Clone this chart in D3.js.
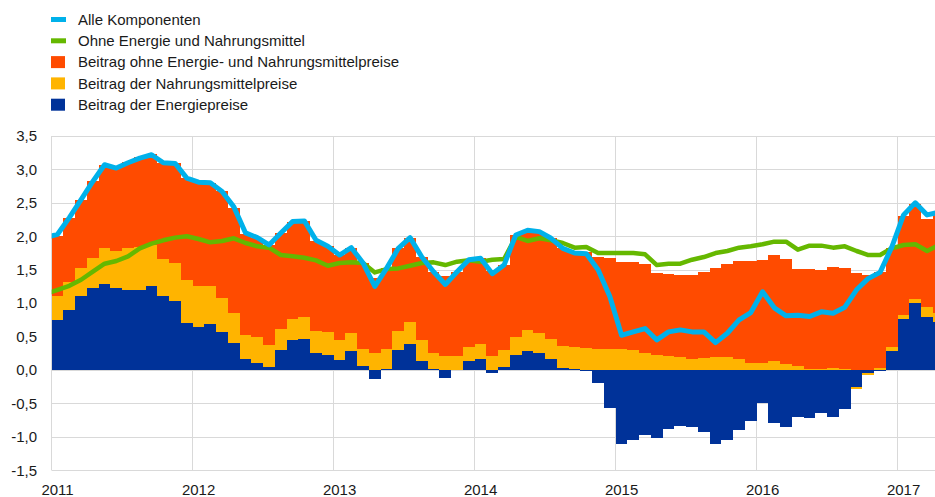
<!DOCTYPE html>
<html>
<head>
<meta charset="utf-8">
<script src="https://cdn.jsdelivr.net/npm/d3@7/dist/d3.min.js"></script>
<style>
	body { margin: 0; background: #fff; }
	svg text { font-family: "Liberation Sans", Arial, sans-serif; font-size: 15px; fill: #1a1a1a; }
</style>
</head>
<body>
<div id="chart"></div>
<script>
// monthly data, bars start in Jan 2011
var firstYear  = 2011;
var yearLabels = ['2011', '2012', '2013', '2014', '2015', '2016', '2017'];
var yTicks     = [-1.5, -1.0, -0.5, 0.0, 0.5, 1.0, 1.5, 2.0, 2.5, 3.0, 3.5];

var seriesNames  = ['Alle Komponenten', 'Ohne Energie und Nahrungsmittel',
	'Beitrag ohne Energie- und Nahrungsmittelpreise', 'Beitrag der Nahrungsmittelpreise',
	'Beitrag der Energiepreise'];

// contribution of energy prices
var energy = [
	0.75, 0.90, 1.10, 1.23, 1.28, 1.22, 1.20, 1.20, 1.26, 1.10, 1.03, 0.71,
	0.65, 0.69, 0.57, 0.41, 0.16, 0.10, 0.05, 0.30, 0.45, 0.47, 0.25, 0.22,
	0.15, 0.29, 0.06, -0.13, 0.02, 0.30, 0.39, 0.14, 0.01, -0.12, 0.00, 0.14,
	0.17, -0.04, 0.05, 0.22, 0.28, 0.25, 0.17, 0.03, 0.01, -0.02, -0.19, -0.57,
	-1.10, -1.05, -0.97, -1.01, -0.88, -0.84, -0.85, -0.92, -1.11, -1.05, -0.90, -0.77,
	-0.50, -0.80, -0.85, -0.70, -0.72, -0.64, -0.70, -0.59, -0.26, -0.05, -0.01, 0.29,
	0.76, 1.00, 0.80, 0.72
];
// contribution of food prices
var food = [
	0.36, 0.41, 0.43, 0.45, 0.55, 0.56, 0.62, 0.64, 0.61, 0.56, 0.57, 0.63,
	0.61, 0.57, 0.51, 0.45, 0.37, 0.39, 0.32, 0.32, 0.31, 0.33, 0.33, 0.35,
	0.30, 0.26, 0.25, 0.25, 0.29, 0.29, 0.33, 0.31, 0.24, 0.21, 0.21, 0.21,
	0.22, 0.21, 0.25, 0.27, 0.32, 0.30, 0.30, 0.33, 0.34, 0.33, 0.32, 0.32,
	0.31, 0.30, 0.26, 0.23, 0.21, 0.19, 0.17, 0.18, 0.19, 0.20, 0.17, 0.11,
	0.11, 0.13, 0.09, 0.06, 0.02, 0.01, 0.03, 0.01, -0.02, -0.02, 0.03, 0.05,
	0.07, 0.06, 0.14, 0.13
];
// contribution excluding energy and food
var core = [
	0.89, 0.96, 1.01, 1.14, 1.24, 1.24, 1.29, 1.34, 1.36, 1.44, 1.50, 1.53,
	1.56, 1.54, 1.59, 1.57, 1.51, 1.49, 1.50, 1.43, 1.46, 1.43, 1.35, 1.28,
	1.27, 1.28, 1.29, 1.13, 1.21, 1.23, 1.26, 1.24, 1.22, 1.19, 1.26, 1.30,
	1.28, 1.27, 1.27, 1.53, 1.49, 1.52, 1.50, 1.46, 1.40, 1.43, 1.37, 1.35,
	1.31, 1.32, 1.33, 1.22, 1.23, 1.23, 1.25, 1.29, 1.33, 1.39, 1.46, 1.52,
	1.54, 1.59, 1.57, 1.45, 1.49, 1.49, 1.51, 1.51, 1.45, 1.42, 1.43, 1.48,
	1.47, 1.43, 1.32, 1.48
];

// lines start one month earlier (Dec 2010), only a stub shows at the left edge
var lineStart = -1;
var headline = [
	1.98,
	2.03, 2.28, 2.55, 2.82, 3.07, 3.02, 3.10, 3.17, 3.22, 3.10, 3.09, 2.87,
	2.81, 2.80, 2.67, 2.44, 2.05, 1.98, 1.87, 2.05, 2.22, 2.23, 1.94, 1.85,
	1.72, 1.83, 1.60, 1.25, 1.52, 1.82, 1.98, 1.69, 1.47, 1.28, 1.47, 1.65,
	1.67, 1.44, 1.57, 2.02, 2.09, 2.07, 1.97, 1.82, 1.75, 1.74, 1.50, 1.10,
	0.52, 0.57, 0.62, 0.45, 0.57, 0.60, 0.57, 0.57, 0.41, 0.55, 0.75, 0.86,
	1.17, 0.93, 0.81, 0.82, 0.80, 0.87, 0.85, 0.94, 1.20, 1.37, 1.46, 1.84,
	2.32, 2.50, 2.32, 2.36
];
var exEnergyFood = [
	1.14,
	1.20, 1.26, 1.35, 1.47, 1.59, 1.63, 1.70, 1.82, 1.89, 1.94, 1.98, 2.00,
	1.96, 1.91, 1.93, 1.97, 1.90, 1.85, 1.83, 1.72, 1.70, 1.68, 1.64, 1.56,
	1.60, 1.61, 1.60, 1.46, 1.51, 1.52, 1.56, 1.60, 1.61, 1.57, 1.62, 1.64,
	1.62, 1.65, 1.66, 1.99, 1.93, 1.97, 1.94, 1.90, 1.83, 1.84, 1.75, 1.75,
	1.75, 1.75, 1.73, 1.57, 1.59, 1.59, 1.65, 1.69, 1.75, 1.78, 1.83, 1.85,
	1.88, 1.92, 1.92, 1.80, 1.86, 1.86, 1.83, 1.85, 1.78, 1.72, 1.72, 1.82,
	1.87, 1.88, 1.78, 1.87
];

var colors = {
	headline: '#00b1ea',
	exEnergyFood: '#65b800',
	core: '#ff4b00',
	food: '#ffb400',
	energy: '#003299'
};

var width  = 935,
	height = 497;

var svg = d3.select('#chart').append('svg')
	.attr('width', width)
	.attr('height', height);

// month index -> pixel, index 0 is the start of Jan 2011
var x = d3.scaleLinear()
	.domain([0, 72])
	.range([51.7, 897.7]);

var y = d3.scaleLinear()
	.domain([-1.5, 3.5])
	.range([470.3, 136]);

var plotLeft = x(0);

// grid
var grid = svg.append('g').attr('class', 'grid');
grid.selectAll('line.h')
	.data(yTicks)
	.enter().append('line')
	.attr('x1', plotLeft).attr('x2', width)
	.attr('y1', function(d) { return Math.round(y(d)) + 0.5; })
	.attr('y2', function(d) { return Math.round(y(d)) + 0.5; })
	.attr('stroke', '#d9d9d9');
grid.selectAll('line.v')
	.data(yearLabels)
	.enter().append('line')
	.attr('x1', function(d, i) { return Math.round(x(i * 12)) - 0.5; })
	.attr('x2', function(d, i) { return Math.round(x(i * 12)) - 0.5; })
	.attr('y1', y(3.5)).attr('y2', y(-1.5))
	.attr('stroke', '#d9d9d9');

// stacked bars
var table = energy.map(function(e, i) {
	return {i: i, energy: e, food: food[i], core: core[i]};
});
var stack = d3.stack()
	.keys(['energy', 'food', 'core'])
	.offset(d3.stackOffsetDiverging);

var layers = svg.append('g').attr('class', 'bars')
	.selectAll('g')
	.data(stack(table))
	.enter().append('g')
	.attr('fill', function(d) { return colors[d.key]; });

layers.selectAll('rect')
	.data(function(d) { return d.filter(function(p) { return p[1] !== p[0]; }); })
	.enter().append('rect')
	.attr('shape-rendering', 'crispEdges')
	.attr('x', function(d) { return Math.round(x(d.data.i)); })
	.attr('width', function(d) { return Math.round(x(d.data.i + 1)) - Math.round(x(d.data.i)); })
	.attr('y', function(d) { return Math.round(y(d[1])); })
	.attr('height', function(d) { return Math.max(0, Math.round(y(d[0])) - Math.round(y(d[1]))); });

// lines
svg.append('clipPath').attr('id', 'plot-clip')
	.append('rect')
	.attr('x', plotLeft).attr('y', 0)
	.attr('width', width - plotLeft).attr('height', height);

var line = d3.line()
	.x(function(d, i) { return x(lineStart + i + 0.5); })
	.y(function(d) { return y(d); });

var lines = svg.append('g').attr('clip-path', 'url(#plot-clip)');
lines.append('path')
	.attr('d', line(exEnergyFood))
	.attr('fill', 'none')
	.attr('stroke', colors.exEnergyFood)
	.attr('stroke-width', 4.5)
	.attr('stroke-linejoin', 'round');
lines.append('path')
	.attr('d', line(headline))
	.attr('fill', 'none')
	.attr('stroke', colors.headline)
	.attr('stroke-width', 5)
	.attr('stroke-linejoin', 'round');

// axes labels
svg.append('g').selectAll('text')
	.data(yTicks)
	.enter().append('text')
	.attr('x', 37)
	.attr('y', function(d) { return y(d); })
	.attr('dy', '0.35em')
	.attr('text-anchor', 'end')
	.text(function(d) { return d3.format('.1f')(d).replace('.', ',').replace('\u2212', '-'); });

svg.append('g').selectAll('text')
	.data(yearLabels)
	.enter().append('text')
	.attr('x', function(d, i) { return x(i * 12 + 0.5); })
	.attr('y', 495)
	.attr('text-anchor', 'middle')
	.text(function(d) { return d; });

// legend
var legendKeys = ['headline', 'exEnergyFood', 'core', 'food', 'energy'];
var legend = svg.append('g').attr('class', 'legend')
	.selectAll('g')
	.data(legendKeys)
	.enter().append('g')
	.attr('transform', function(d, i) { return 'translate(51,' + (19.5 + i * 21.3) + ')'; });

legend.append('rect')
	.attr('x', 0)
	.attr('width', function(d, i) { return i < 2 ? 15 : 14; })
	.attr('y', function(d, i) { return i < 2 ? -2.5 : -6; })
	.attr('height', function(d, i) { return i < 2 ? 5 : 12; })
	.attr('fill', function(d) { return colors[d]; });

legend.append('text')
	.attr('x', 27)
	.attr('dy', '0.35em')
	.text(function(d, i) { return seriesNames[i]; });
</script>
</body>
</html>
